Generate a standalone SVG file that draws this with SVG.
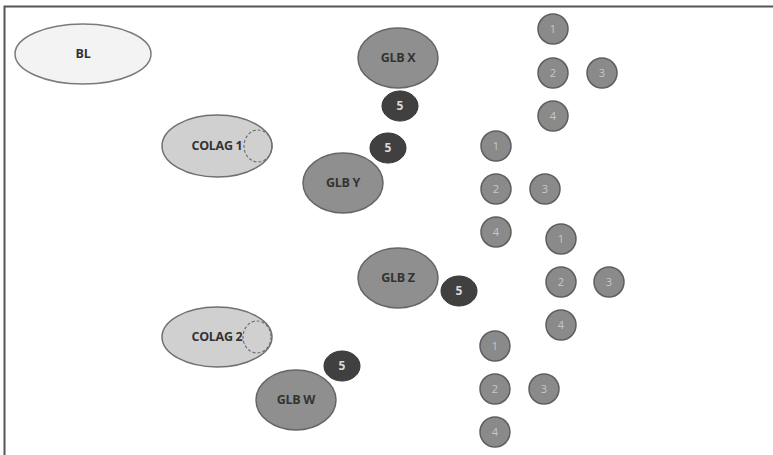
<svg xmlns="http://www.w3.org/2000/svg" width="773" height="455" viewBox="0 0 773 455">
<style>
.frame{stroke:#555;stroke-width:2;fill:none}
.bl{fill:#f3f3f3;stroke:#7a7a7a;stroke-width:1.5}
.colag{fill:#d0d0d0;stroke:#707070;stroke-width:1.5}
.dash{fill:none;stroke:#707070;stroke-width:1.2;stroke-dasharray:3 2}
.glb{fill:#8f8f8f;stroke:#666;stroke-width:1.5}
.five{fill:#404040;stroke:#333;stroke-width:1}
.num{fill:#8a8a8a;stroke:#5e5e5e;stroke-width:1.5}
.lbl{font-family:"Open Sans","DejaVu Sans",sans-serif;font-size:12.5px;font-weight:bold;fill:#333;text-anchor:middle;letter-spacing:-0.3px}
.lf{font-family:"Open Sans","DejaVu Sans",sans-serif;font-size:12px;font-weight:bold;fill:#d8d8d8;text-anchor:middle}
.ln{font-family:"Open Sans","DejaVu Sans",sans-serif;font-size:11px;fill:#c8c8c8;text-anchor:middle}
</style>
<rect width="773" height="455" fill="#fff"/>
<path class="frame" d="M4.5 455 V6.5 H773"/>
<g id="connectors"></g>
<g id="BL"><ellipse class="bl" cx="83" cy="54" rx="68" ry="30"/><text class="lbl" x="83" y="58">BL</text></g>
<g id="COLAG1"><ellipse class="colag" cx="217" cy="146" rx="55" ry="31"/><text class="lbl" x="217" y="150">COLAG 1</text><ellipse class="dash" cx="258" cy="146" rx="14" ry="16"/></g>
<g id="COLAG2"><ellipse class="colag" cx="217" cy="337" rx="55" ry="30"/><text class="lbl" x="217" y="341">COLAG 2</text><ellipse class="dash" cx="257" cy="337" rx="14" ry="16"/></g>
<g id="GLBX"><ellipse class="glb" cx="398" cy="58" rx="40" ry="30"/><text class="lbl" x="398" y="62">GLB X</text></g>
<g id="GLBY"><ellipse class="glb" cx="343" cy="183" rx="40" ry="30"/><text class="lbl" x="343" y="187">GLB Y</text></g>
<g id="GLBZ"><ellipse class="glb" cx="398" cy="278" rx="40" ry="30"/><text class="lbl" x="398" y="282">GLB Z</text></g>
<g id="GLBW"><ellipse class="glb" cx="296" cy="400" rx="40" ry="30"/><text class="lbl" x="296" y="404">GLB W</text></g>
<g id="X5"><ellipse class="five" cx="400" cy="106" rx="18" ry="15"/><text class="lf" x="400" y="110">5</text></g>
<g id="Y5"><ellipse class="five" cx="388" cy="148" rx="18" ry="15"/><text class="lf" x="388" y="152">5</text></g>
<g id="Z5"><ellipse class="five" cx="459" cy="291" rx="18" ry="15"/><text class="lf" x="459" y="295">5</text></g>
<g id="W5"><ellipse class="five" cx="342" cy="366" rx="18" ry="15"/><text class="lf" x="342" y="370">5</text></g>
<g id="A1"><circle class="num" cx="553" cy="29" r="15"/><text class="ln" x="553" y="33">1</text></g>
<g id="A2"><circle class="num" cx="553" cy="73" r="15"/><text class="ln" x="553" y="77">2</text></g>
<g id="A3"><circle class="num" cx="602" cy="73" r="15"/><text class="ln" x="602" y="77">3</text></g>
<g id="A4"><circle class="num" cx="553" cy="116" r="15"/><text class="ln" x="553" y="120">4</text></g>
<g id="B1"><circle class="num" cx="496" cy="146" r="15"/><text class="ln" x="496" y="150">1</text></g>
<g id="B2"><circle class="num" cx="496" cy="189" r="15"/><text class="ln" x="496" y="193">2</text></g>
<g id="B3"><circle class="num" cx="545" cy="189" r="15"/><text class="ln" x="545" y="193">3</text></g>
<g id="B4"><circle class="num" cx="496" cy="232" r="15"/><text class="ln" x="496" y="236">4</text></g>
<g id="C1"><circle class="num" cx="561" cy="239" r="15"/><text class="ln" x="561" y="243">1</text></g>
<g id="C2"><circle class="num" cx="561" cy="282" r="15"/><text class="ln" x="561" y="286">2</text></g>
<g id="C3"><circle class="num" cx="609" cy="282" r="15"/><text class="ln" x="609" y="286">3</text></g>
<g id="C4"><circle class="num" cx="561" cy="325" r="15"/><text class="ln" x="561" y="329">4</text></g>
<g id="D1"><circle class="num" cx="495" cy="346" r="15"/><text class="ln" x="495" y="350">1</text></g>
<g id="D2"><circle class="num" cx="495" cy="389" r="15"/><text class="ln" x="495" y="393">2</text></g>
<g id="D3"><circle class="num" cx="544" cy="389" r="15"/><text class="ln" x="544" y="393">3</text></g>
<g id="D4"><circle class="num" cx="495" cy="432" r="15"/><text class="ln" x="495" y="436">4</text></g>
</svg>
